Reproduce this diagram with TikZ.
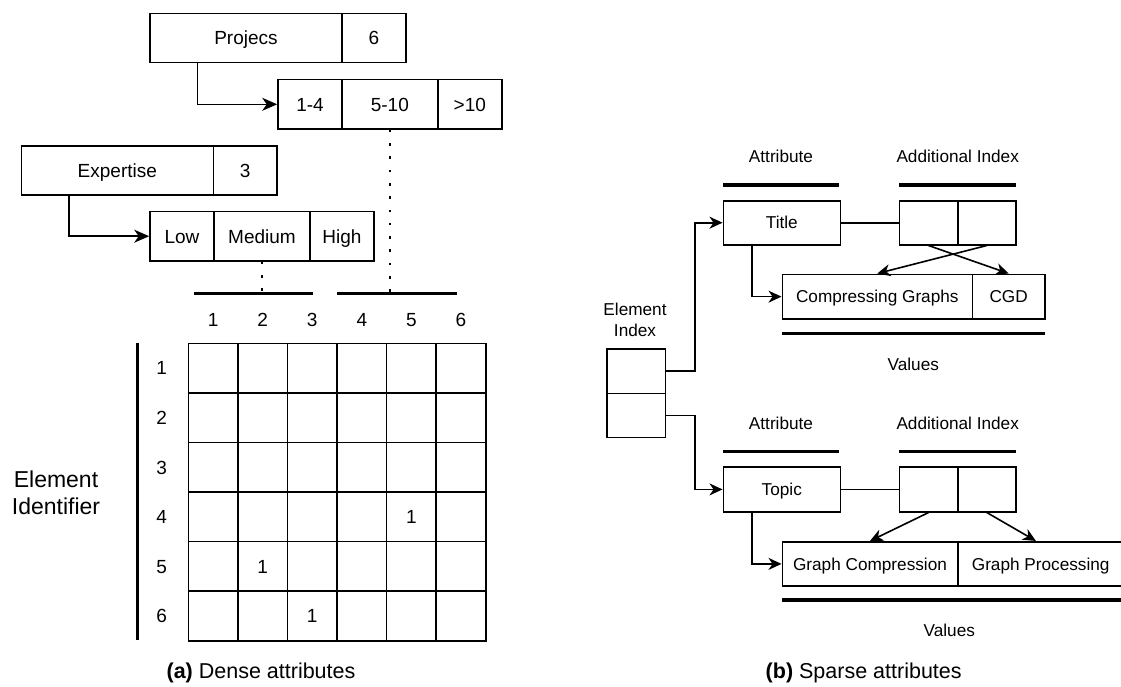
\documentclass[tikz,border=0pt]{standalone}
\usepackage{fontspec}
\setmainfont{Liberation Sans}
\usetikzlibrary{arrows.meta,calc}
\begin{document}
\begin{tikzpicture}[x=1pt,y=-1pt,
  box/.style={draw, line width=1.6pt, inner sep=0pt, anchor=center},
  lf/.style={font=\fontsize{19}{23}\selectfont, text height=13.6pt, text depth=0pt},
  rf/.style={font=\fontsize{17.2}{20.5}\selectfont, text height=12.3pt, text depth=0pt},
  rfm/.style={font=\fontsize{17.2}{20.5}\selectfont},
  arr/.style={line width=1.6pt, -{Stealth[length=15pt,width=13pt,inset=4.5pt]}},
  rarr/.style={line width=1.6pt, -{Stealth[length=13pt,width=12pt,inset=4pt]}},
  conn/.style={line width=1.6pt},
  rule/.style={line width=3.2pt},
  dots/.style={line width=2.6pt, dash pattern=on 2.6pt off 10.7pt}]
\clip (0,0) rectangle (1121,686);

% ---------- (a) dense attributes ----------
\node[box,lf,minimum width=192pt,minimum height=49pt] (proj) at (246,38) {Projecs};
\node[box,lf,minimum width=64pt,minimum height=49pt] (projn) at (374,38) {6};
\node[box,lf,minimum width=64pt,minimum height=49.3pt] (r14) at (310,104.3) {1-4};
\node[box,lf,minimum width=95.7pt,minimum height=49.3pt] (r510) at (389.85,104.3) {5-10};
\node[box,lf,minimum width=64.3pt,minimum height=49.3pt] (r10) at (469.85,104.3) {>10};

\node[box,lf,minimum width=192pt,minimum height=49pt] (exp) at (117.3,170.2) {Expertise};
\node[box,lf,minimum width=63.7pt,minimum height=49pt] (expn) at (245.2,170.2) {3};
\node[box,lf,minimum width=64pt,minimum height=49.7pt] (low) at (182,236.2) {Low};
\node[box,lf,minimum width=96pt,minimum height=49.7pt] (med) at (262,236.2) {Medium};
\node[box,lf,minimum width=64pt,minimum height=49.7pt] (high) at (342,236.2) {High};

\draw[arr] ($(proj.south west)!0.25!(proj.south east)$) |- (r14.west);
\draw[arr] ($(exp.south west)!0.25!(exp.south east)$) |- (low.west);

% column group rules
\coordinate (ra1) at (194,293.3);
\coordinate (ra2) at (313.3,293.3);
\coordinate (rb1) at (337.3,293.3);
\coordinate (rb2) at (456.7,293.3);
\draw[rule] (ra1) -- (ra2);
\draw[rule] (rb1) -- (rb2);
\draw[dots] (med.south) -- (med.south |- ra1);
\draw[dots] (r510.south) -- (r510.south |- rb1);

% matrix
\foreach \r in {1,...,6}{
  \foreach \c in {1,...,6}{
    \node[box,minimum size=49.57pt] (g-\r-\c) at ({188.3+49.57*(\c-0.5)},{343.3+49.57*(\r-0.5)}) {};
  }
  \node[lf] (rl-\r) at (161.7,{343.3+49.57*(\r-0.5)}) {\r};
  \node[lf] (cl-\r) at ({188.3+49.57*(\r-0.5)},320) {\r};
}
\node[lf] (v-4-5) at (g-4-5) {1};
\node[lf] (v-5-2) at (g-5-2) {1};
\node[lf] (v-6-3) at (g-6-3) {1};

\draw[rule] (137.3,343.3) -- (137.3,640);
\node[align=center,font=\fontsize{23}{27}\selectfont] (eid) at (56,493) {Element\\Identifier};

\node[font=\fontsize{21.5}{25}\selectfont] (capa) at (261,673) {\textbf{(a)} Dense attributes};

% ---------- (b) sparse attributes ----------
\node[rfm,align=center] (eidx) at (635,320) {Element\\Index};
\node[box,minimum width=58.6pt,minimum height=44.6pt] (ei1) at (636,371) {};
\node[box,minimum width=58.6pt,minimum height=44pt] (ei2) at (636,415.3) {};

% first attribute
\node[rf] (attr1) at (781,156.7) {Attribute};
\node[rf] (aidx1) at (957.7,156.7) {Additional Index};
\draw[rule] (723.3,185) -- (839.3,185);
\draw[rule] (899.3,185) -- (1016,185);
\node[box,rf,minimum width=117pt,minimum height=44pt] (title) at (781.8,222.7) {Title};
\node[box,minimum width=58.4pt,minimum height=44pt] (ai1a) at (928.5,222.7) {};
\node[box,minimum width=58.3pt,minimum height=44pt] (ai1b) at (986.85,222.7) {};
\node[box,rf,minimum width=190pt,minimum height=44.7pt] (v1a) at (877.3,296.65) {Compressing Graphs};
\node[box,rf,minimum width=72.7pt,minimum height=44.7pt] (v1b) at (1008.65,296.65) {CGD};
\draw[rule] (782.3,333.3) -- (1045,333.3);
\node[rf] (vals1) at (913.3,364) {Values};

\draw[conn] (title.east) -- (ai1a.west);
\draw[rarr] ($(title.south west)!0.25!(title.south east)$) |- (v1a.west);
\draw[rarr] (ai1a.south) -- (v1b.north);
\draw[rarr] (ai1b.south) -- (v1a.north);
\draw[rarr] (ei1.east) -- ++(29,0) |- (title.west);

% second attribute
\node[rf] (attr2) at (781,423.3) {Attribute};
\node[rf] (aidx2) at (957.7,423.3) {Additional Index};
\draw[rule] (723.3,451.7) -- (839.3,451.7);
\draw[rule] (899.3,451.7) -- (1016,451.7);
\node[box,rf,minimum width=117pt,minimum height=44.7pt] (topic) at (781.8,489.4) {Topic};
\node[box,minimum width=58.4pt,minimum height=44.7pt] (ai2a) at (928.5,489.4) {};
\node[box,minimum width=58.3pt,minimum height=44.7pt] (ai2b) at (986.85,489.4) {};
\node[box,rf,minimum width=175.4pt,minimum height=44.3pt] (v2a) at (870,563.9) {Graph Compression};
\node[box,rf,minimum width=166pt,minimum height=44.3pt] (v2b) at (1040.7,563.9) {Graph Processing};
\draw[rule] (782.3,600) -- (1130,600);
\node[rf] (vals2) at (949.3,630.7) {Values};

\draw[conn] (topic.east) -- (ai2a.west);
\draw[rarr] ($(topic.south west)!0.25!(topic.south east)$) |- (v2a.west);
\draw[rarr] (ai2a.south) -- (v2a.north);
\draw[rarr] (ai2b.south) -- ($(v2b.north west)+(79,0)$);
\draw[rarr] (ei2.east) -- ++(29,0) |- (topic.west);

\node[font=\fontsize{21.5}{25}\selectfont] (capb) at (863.7,673) {\textbf{(b)} Sparse attributes};
\end{tikzpicture}
\end{document}
